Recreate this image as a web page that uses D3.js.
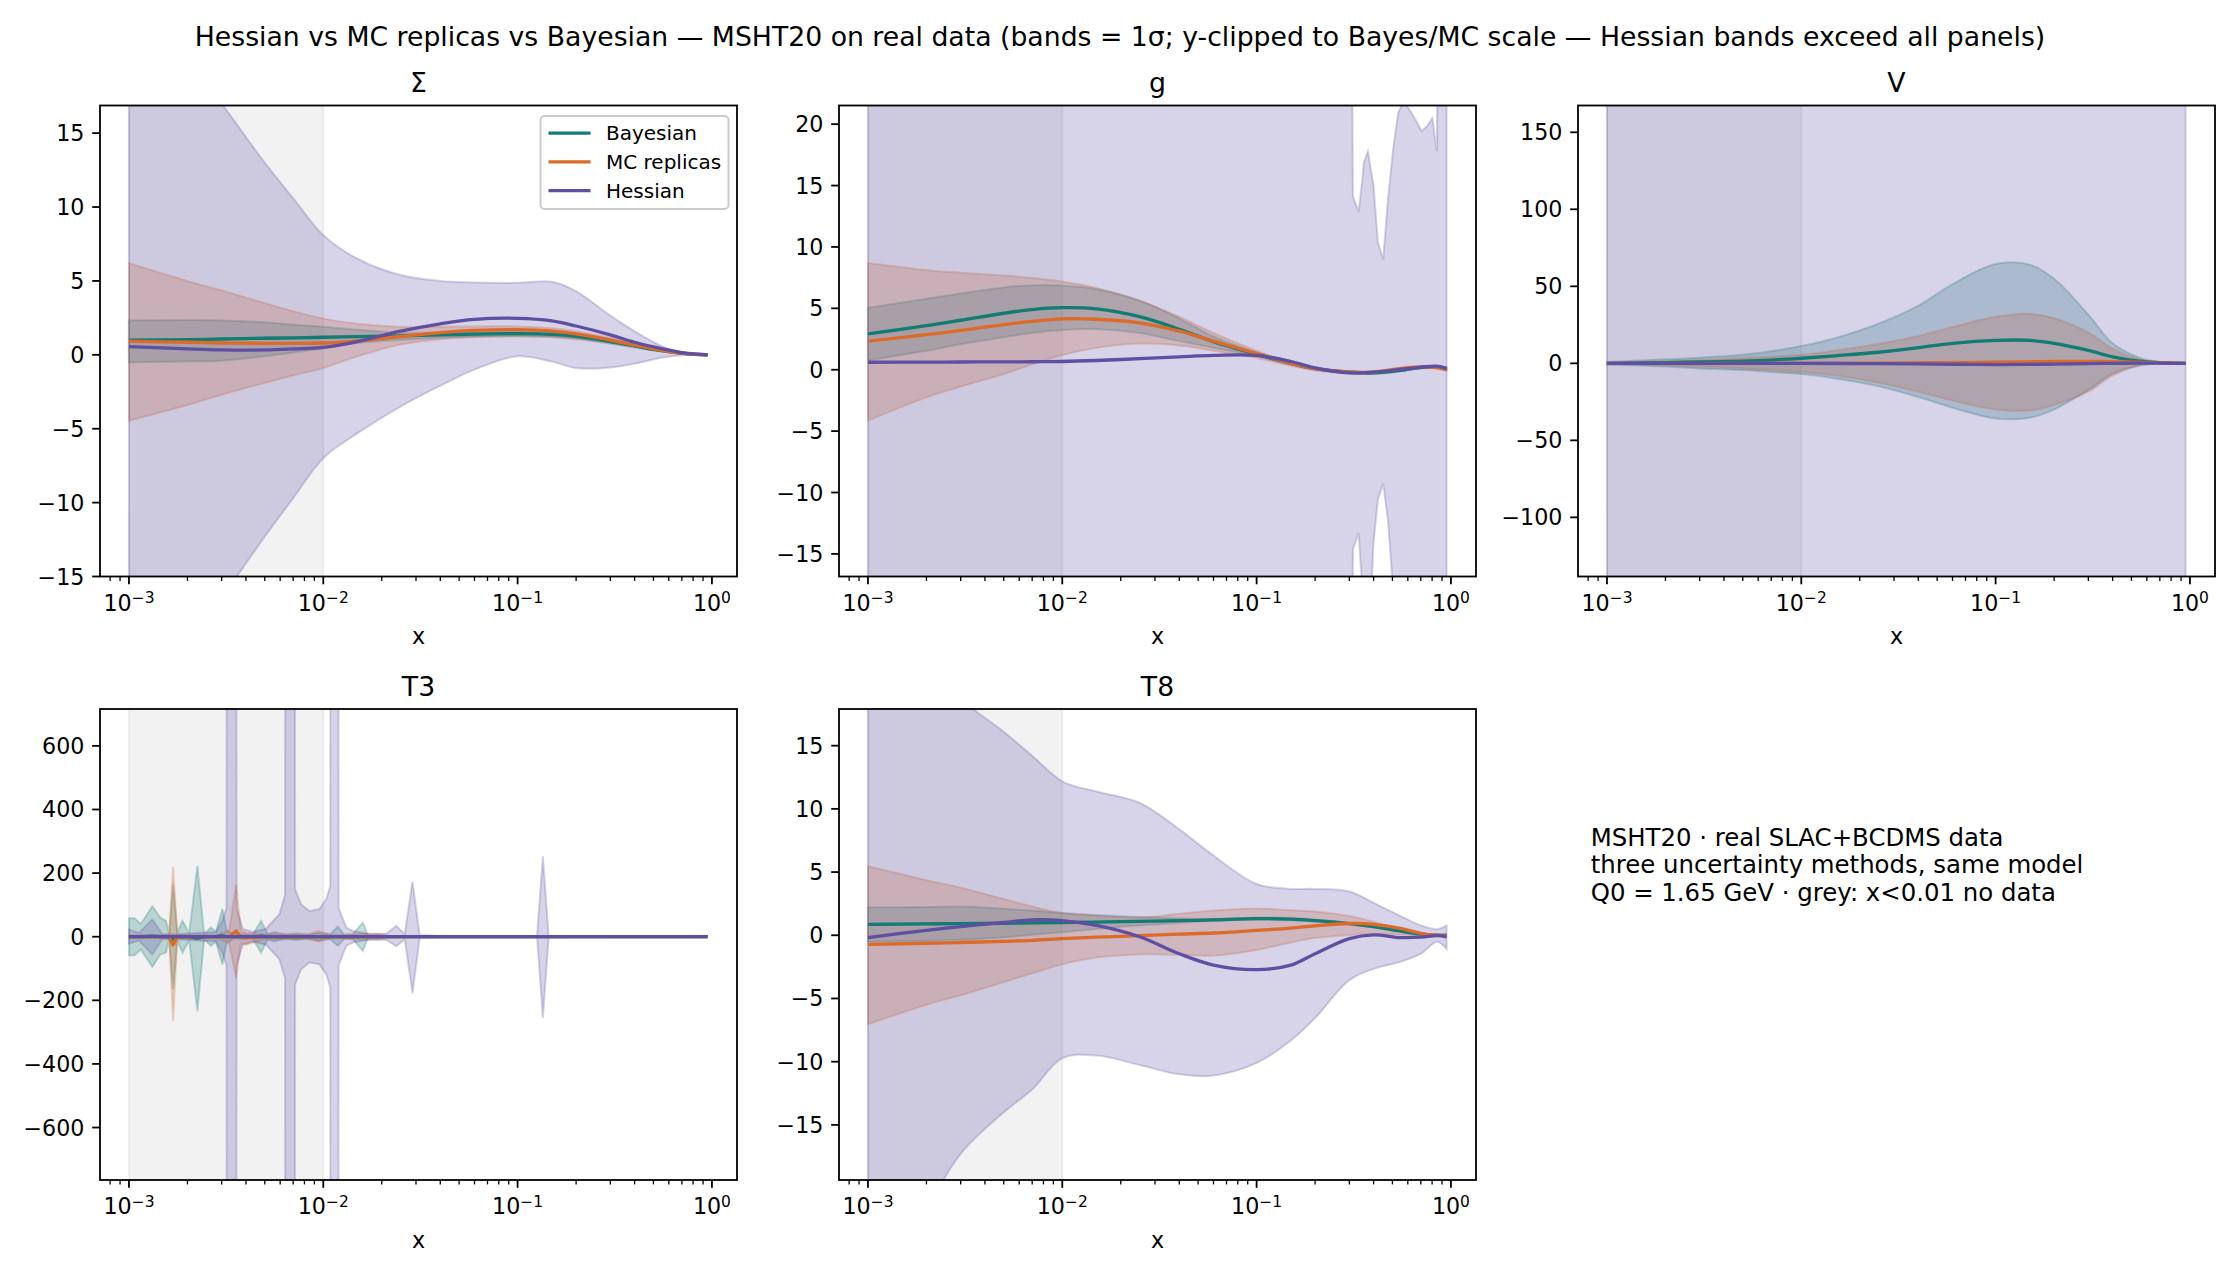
<!DOCTYPE html>
<html>
<head>
<meta charset="utf-8">
<script src="https://cdn.jsdelivr.net/npm/d3@7/dist/d3.min.js"></script>
<style>
  body { margin: 0; background: #fff; }
  text { font-family: "DejaVu Sans", sans-serif; fill: #000; }
</style>
</head>
<body>
<div id="chart"></div>
<script>
// ---- values ----
var xGrid = [0.001, 0.002, 0.003, 0.005, 0.007, 0.01, 0.015, 0.025, 0.04, 0.06, 0.1, 0.15, 0.2, 0.3, 0.4, 0.55, 0.7, 0.85, 0.95];
var noDataSpan = [0.001, 0.01];

// Sigma
var sigmaYlim = [-15, 16.87];
var sigmaTicks = [-15, -10, -5, 0, 5, 10, 15];
var sigmaBayes   = [1.0, 1.03, 1.07, 1.12, 1.15, 1.19, 1.23, 1.28, 1.35, 1.4, 1.43, 1.38, 1.25, 0.9, 0.6, 0.28, 0.1, 0.02, 0];
var sigmaBayesLo = [-0.5, -0.45, -0.4, -0.1, 0.15, 0.45, 0.8, 1.0, 1.15, 1.22, 1.25, 1.2, 1.1, 0.75, 0.5, 0.23, 0.08, 0.01, 0];
var sigmaBayesHi = [2.33, 2.35, 2.33, 2.2, 2.05, 1.9, 1.7, 1.5, 1.5, 1.55, 1.6, 1.55, 1.4, 1.05, 0.7, 0.33, 0.12, 0.03, 0];
var sigmaMc      = [0.92, 0.85, 0.8, 0.78, 0.78, 0.8, 0.95, 1.24, 1.5, 1.65, 1.7, 1.6, 1.42, 1.0, 0.65, 0.3, 0.11, 0.03, 0];
var sigmaMcLo    = [-4.46, -3.4, -2.7, -1.9, -1.4, -0.9, -0.1, 0.7, 1.05, 1.2, 1.25, 1.2, 1.05, 0.8, 0.55, 0.25, 0.09, 0.02, 0];
var sigmaMcHi    = [6.2, 5.0, 4.35, 3.5, 2.95, 2.45, 2.1, 1.9, 1.9, 1.92, 1.92, 1.8, 1.6, 1.15, 0.75, 0.35, 0.12, 0.03, 0];
var sigmaHess    = [0.56, 0.4, 0.33, 0.33, 0.4, 0.5, 0.9, 1.6, 2.1, 2.4, 2.47, 2.3, 1.95, 1.35, 0.85, 0.42, 0.15, 0.04, 0];
var sigmaHessLo  = [-28, -20, -16.5, -12.3, -9.7, -7.0, -5.3, -3.5, -2.1, -1.0, -0.1, -0.46, -0.9, -0.85, -0.6, -0.2, -0.03, 0, 0];
var sigmaHessHi  = [28, 20, 17, 13, 10.6, 8.1, 6.5, 5.4, 5.0, 4.9, 4.87, 4.94, 4.3, 2.65, 1.6, 0.6, 0.12, 0.03, 0];

// g
var gYlim = [-16.84, 21.52];
var gTicks = [-15, -10, -5, 0, 5, 10, 15, 20];
var gBayes   = [2.92, 3.59, 4.03, 4.6, 4.9, 5.05, 4.96, 4.32, 3.3, 2.28, 1.25, 0.52, 0.09, -0.2, -0.26, -0.06, 0.2, 0.23, 0.09];
var gBayesLo = [0.76, 1.55, 2.07, 2.65, 3.0, 3.24, 3.3, 3.0, 2.33, 1.78, 1.11, 0.44, 0.01, -0.28, -0.34, -0.14, 0.12, 0.15, 0.01];
var gBayesHi = [5.05, 5.78, 6.21, 6.7, 6.88, 6.86, 6.56, 5.63, 4.17, 2.71, 1.4, 0.61, 0.17, -0.12, -0.18, 0.02, 0.28, 0.31, 0.17];
var gMc      = [2.33, 2.86, 3.2, 3.68, 3.94, 4.14, 4.11, 3.82, 3.15, 2.33, 1.31, 0.52, 0.09, -0.2, -0.2, 0.09, 0.23, 0.17, 0];
var gMcLo    = [-4.14, -2.25, -1.37, -0.35, 0.44, 1.2, 1.78, 2.13, 1.98, 1.55, 0.96, 0.32, -0.06, -0.3, -0.3, -0.01, 0.13, 0.07, -0.1];
var gMcHi    = [8.69, 8.11, 7.9, 7.67, 7.47, 7.18, 6.65, 5.63, 4.32, 3.0, 1.55, 0.61, 0.19, -0.1, -0.1, 0.19, 0.33, 0.27, 0.1];
var gHess    = [0.61, 0.62, 0.63, 0.64, 0.65, 0.67, 0.75, 0.9, 1.05, 1.17, 1.17, 0.67, 0.15, -0.26, -0.2, 0.03, 0.2, 0.29, 0.09];
var gHessBandX = [0.001, 0.01, 0.1, 0.2, 0.28, 0.307, 0.313, 0.335, 0.35, 0.356, 0.374, 0.39, 0.4, 0.421, 0.448, 0.474, 0.504, 0.535, 0.561, 0.594, 0.656, 0.706, 0.755, 0.802, 0.847, 0.857, 0.9, 0.95];
var gHessHi  = [45, 45, 45, 45, 45, 40, 14.15, 12.85, 15.5, 16.87, 17.8, 16, 14.96, 10.35, 8.99, 13.88, 17.95, 20.94, 21.6, 21.5, 20.4, 19.45, 19.85, 20.5, 17.8, 40, 45, 45];
var gHessLo  = [-45, -45, -45, -45, -45, -40, -14.65, -13.3, -18, -19, -19, -18, -14, -10.57, -9.27, -12.2, -18, -30, -40, -45, -45, -45, -45, -45, -45, -45, -45, -45];

// V
var vYlim = [-138.4, 167.4];
var vTicks = [-100, -50, 0, 50, 100, 150];
var vBayes   = [0, 0.5, 0.9, 1.4, 2.1, 3.3, 4.9, 7.2, 10.2, 13.0, 14.9, 14.9, 13.0, 8.4, 4.2, 1.4, 0.5, 0.1, 0];
var vBayesLo = [-0.9, -2.1, -3.3, -4.4, -5.6, -7.0, -9.8, -14.9, -21.9, -28.8, -35.8, -35.3, -30, -17.2, -6.7, -1.4, -0.2, 0, 0];
var vBayesHi = [0.9, 2.6, 3.7, 5.6, 7.9, 11.2, 16.5, 25.8, 37.4, 51.4, 64.5, 64.0, 54.9, 31.6, 13, 3.7, 0.9, 0.2, 0];
var vMc      = [0, 0, 0, 0, 0, 0, 0, 0.1, 0.3, 0.5, 0.8, 1.0, 1.2, 1.3, 1.1, 0.6, 0.3, 0.1, 0];
var vMcLo    = [-0.5, -1.4, -2.1, -3.3, -4.4, -5.6, -7.9, -12.6, -18.4, -24.2, -30, -30.7, -27, -18.4, -7.9, -1.4, -0.2, 0, 0];
var vMcHi    = [0.5, 1.4, 2.1, 3.3, 4.2, 5.6, 8.4, 12.6, 17.7, 23.5, 30.2, 32.1, 29.3, 20, 9.5, 2.6, 0.5, 0.1, 0];
var vHess    = [0, 0, 0, 0, 0, 0, -0.1, -0.2, -0.4, -0.6, -0.8, -0.7, -0.5, -0.2, 0, 0.1, 0.1, 0, 0];
var vHessBandX = [0.001, 0.95];
var vHessLo  = [-420, -420];
var vHessHi  = [420, 420];

// T3 (jagged, drawn point to point)
var t3Ylim = [-765, 716];
var t3Ticks = [-600, -400, -200, 0, 200, 400, 600];
var t3BayesX  = [0.001, 0.00107, 0.00115, 0.00132, 0.00145, 0.00155, 0.00161, 0.001687, 0.001774, 0.001884, 0.002042, 0.002249, 0.002438, 0.002642, 0.002799, 0.003027, 0.003177, 0.003483, 0.003846, 0.004325, 0.004786, 0.005176, 0.005598, 0.006442, 0.007244, 0.008166, 0.00955, 0.010765, 0.011885, 0.012853, 0.014191, 0.015996, 0.016982, 0.02, 0.05, 0.95];
var t3BayesHi = [58, 58, 40, 96, 60, 50, 7, 165, 12, 50, 12, 223, 8, 29, 15, 87, 20, 5, 8, 5, 50, 8, 15, 6, 10, 6, 12, 6, 32, 6, 8, 45, 3, 1, 0, 0];
var t3BayesLo = [-59, -58, -40, -95, -56, -50, -7, -166, -12, -50, -12, -235, -8, -29, -15, -87, -20, -5, -8, -5, -50, -8, -15, -6, -10, -6, -12, -6, -29, -6, -8, -45, -3, -1, 0, 0];
var t3Bayes   = [0, 0, 0, 2, 0, 0, 0, -8, 0, 0, 0, -5, 0, 0, 0, 3, 0, 0, 0, 0, 2, 0, 0, 0, 0, 0, 0, 0, 0, 0, 0, 0, 0, 0, 0, 0];
var t3McX  = [0.001, 0.00155, 0.00161, 0.001687, 0.001774, 0.0022, 0.0028, 0.00328, 0.003556, 0.003767, 0.004, 0.005, 0.0085, 0.00937, 0.0112, 0.0145, 0.01875, 0.0224, 0.03, 0.95];
var t3McHi = [5, 5, 8, 220, 8, 6, 5, 20, 165, 20, 12, 8, 8, 18, 6, 8, 10, 2, 0, 0];
var t3McLo = [-5, -5, -8, -266, -8, -6, -5, -20, -130, -20, -25, -8, -8, -15, -6, -8, -10, -2, 0, 0];
var t3Mc   = [0, 0, 0, -26, 0, 0, 0, 0, 18, 0, -3, 0, 0, 0, 0, 0, 0, 0, 0, 0];
var t3HessX  = [0.001, 0.001127, 0.001318, 0.001486, 0.001778, 0.002239, 0.002799, 0.003027, 0.003177, 0.003373, 0.003581, 0.003846, 0.004325, 0.00507, 0.005943, 0.006353, 0.006745, 0.007161, 0.007691, 0.008492, 0.00955, 0.010351, 0.010864, 0.011429, 0.011995, 0.013122, 0.014191, 0.017783, 0.021135, 0.023768, 0.026242, 0.028774, 0.031333, 0.039811, 0.125893, 0.134896, 0.144544, 0.316228, 0.95];
var t3HessHi = [23, 12, 55, 8, 8, 12, 15, 50, 90, 30000, 90, 25, 15, 25, 71, 130, 30000, 150, 102, 81, 87, 118, 160, 30000, 90, 29, 18, 8, 10, 34, 8, 173, 5, 2, 2, 253, 2, 1, 0];
var t3HessLo = [-22, -12, -56, -8, -8, -12, -15, -50, -90, -30000, -90, -25, -15, -25, -71, -130, -30000, -150, -102, -81, -87, -118, -160, -30000, -90, -29, -18, -8, -10, -30, -8, -177, -5, -2, -2, -255, -2, -1, 0];
var t3HessLineX = [0.001, 0.95];
var t3Hess = [0, 0];

// T8
var t8Ylim = [-19.36, 17.9];
var t8Ticks = [-15, -10, -5, 0, 5, 10, 15];
var t8Bayes   = [0.87, 0.9, 0.92, 0.95, 0.98, 1.01, 1.04, 1.1, 1.16, 1.22, 1.31, 1.28, 1.16, 0.93, 0.69, 0.33, 0.09, 0, 0];
var t8BayesLo = [-0.51, -0.43, -0.36, -0.15, 0.05, 0.24, 0.5, 0.78, 0.98, 1.13, 1.22, 1.18, 1.08, 0.87, 0.62, 0.27, 0.07, -0.01, 0];
var t8BayesHi = [2.21, 2.24, 2.27, 2.1, 1.95, 1.76, 1.6, 1.45, 1.35, 1.3, 1.4, 1.38, 1.25, 1.0, 0.78, 0.4, 0.12, 0.02, 0];
var t8Mc      = [-0.72, -0.63, -0.57, -0.48, -0.4, -0.27, -0.15, -0.03, 0.09, 0.18, 0.39, 0.57, 0.75, 0.93, 0.87, 0.54, 0.15, 0, 0];
var t8McLo    = [-7.04, -5.49, -4.75, -3.7, -3.01, -2.3, -1.76, -1.52, -1.55, -1.61, -1.16, -0.57, -0.21, 0.03, 0.1, 0.05, 0.02, 0, 0];
var t8McHi    = [5.46, 4.36, 3.76, 2.87, 2.27, 1.76, 1.55, 1.4, 1.7, 1.95, 2.12, 1.97, 1.88, 1.52, 1.07, 0.48, 0.09, 0, 0];
var t8Hess    = [-0.18, 0.39, 0.69, 1.01, 1.22, 1.16, 0.78, -0.12, -1.46, -2.36, -2.72, -2.36, -1.46, -0.27, 0.03, -0.18, -0.15, -0.03, -0.12];
var t8HessLo  = [-35, -22, -17.3, -14.0, -12.2, -9.73, -9.52, -10.27, -11.0, -11.1, -10.1, -8.33, -6.54, -3.55, -2.66, -2.1, -1.46, -0.51, -1.1];
var t8HessHi  = [32, 23, 18.8, 16.1, 14.2, 12.18, 11.37, 10.48, 8.39, 6.3, 4.06, 3.67, 3.67, 3.46, 2.57, 1.52, 0.78, 0.48, 0.78];

var methods = ["Bayesian", "MC replicas", "Hessian"];
var title = "Hessian vs MC replicas vs Bayesian \u2014 MSHT20 on real data (bands = 1\u03c3; y-clipped to Bayes/MC scale \u2014 Hessian bands exceed all panels)";
var noteLines = ["MSHT20 \u00b7 real SLAC+BCDMS data", "three uncertainty methods, same model", "Q0 = 1.65 GeV \u00b7 grey: x<0.01 no data"];

// ---- layout ----
var colBayes = "#127b74", colMc = "#dc6a28", colHess = "#5e4fa2";
var W = 637, H = 471;
var colX = [100, 839, 1578], rowY = [105.5, 709];
var xDomain = [Math.pow(10, -3.149), Math.pow(10, 0.129)];
var smooth = d3.curveCatmullRom.alpha(0.5), jag = d3.curveLinear;

function trio(bx, b, bl, bh, mx, m, ml, mh, hx, h, hbx, hl, hh) {
    return [
        {color: colBayes, x: bx, mid: b, bx: bx, lo: bl, hi: bh},
        {color: colMc, x: mx, mid: m, bx: mx, lo: ml, hi: mh},
        {color: colHess, x: hx, mid: h, bx: hbx, lo: hl, hi: hh}
    ];
}

var panels = [
    {title: "\u03a3", col: 0, row: 0, ylim: sigmaYlim, ticks: sigmaTicks, curve: smooth, legend: true,
     series: trio(xGrid, sigmaBayes, sigmaBayesLo, sigmaBayesHi, xGrid, sigmaMc, sigmaMcLo, sigmaMcHi, xGrid, sigmaHess, xGrid, sigmaHessLo, sigmaHessHi)},
    {title: "g", col: 1, row: 0, ylim: gYlim, ticks: gTicks, curve: smooth, hessBandCurve: jag,
     series: trio(xGrid, gBayes, gBayesLo, gBayesHi, xGrid, gMc, gMcLo, gMcHi, xGrid, gHess, gHessBandX, gHessLo, gHessHi)},
    {title: "V", col: 2, row: 0, ylim: vYlim, ticks: vTicks, curve: smooth, hessBandCurve: jag,
     series: trio(xGrid, vBayes, vBayesLo, vBayesHi, xGrid, vMc, vMcLo, vMcHi, xGrid, vHess, vHessBandX, vHessLo, vHessHi)},
    {title: "T3", col: 0, row: 1, ylim: t3Ylim, ticks: t3Ticks, curve: jag,
     series: trio(t3BayesX, t3Bayes, t3BayesLo, t3BayesHi, t3McX, t3Mc, t3McLo, t3McHi, t3HessLineX, t3Hess, t3HessX, t3HessLo, t3HessHi)},
    {title: "T8", col: 1, row: 1, ylim: t8Ylim, ticks: t8Ticks, curve: smooth,
     series: trio(xGrid, t8Bayes, t8BayesLo, t8BayesHi, xGrid, t8Mc, t8McLo, t8McHi, xGrid, t8Hess, xGrid, t8HessLo, t8HessHi)}
];

var svg = d3.select("#chart").append("svg")
    .attr("width", 2240)
    .attr("height", 1280)
    .style("background", "#fff");
var defs = svg.append("defs");

svg.append("text")
    .attr("x", 1120)
    .attr("y", 45.5)
    .attr("text-anchor", "middle")
    .style("font-size", "26.7px")
    .text(title);

function fmtNum(v) { return v < 0 ? "\u2212" + Math.abs(v) : "" + v; }

function drawPanel(p, i) {
    var left = colX[p.col], top = rowY[p.row];
    var x = d3.scaleLog().domain(xDomain).range([0, W]);
    var y = d3.scaleLinear().domain(p.ylim).range([H, 0]);
    var g = svg.append("g").attr("transform", "translate(" + left + "," + top + ")");

    defs.append("clipPath").attr("id", "clip" + i)
        .append("rect").attr("width", W).attr("height", H);
    var plot = g.append("g").attr("clip-path", "url(#clip" + i + ")");

    // grey span: no data below x = 0.01
    plot.append("rect")
        .attr("x", x(noDataSpan[0]))
        .attr("width", x(noDataSpan[1]) - x(noDataSpan[0]))
        .attr("y", -2).attr("height", H + 4)
        .attr("fill", "grey").attr("fill-opacity", 0.1)
        .attr("stroke", "grey").attr("stroke-opacity", 0.1).attr("stroke-width", 2);

    // bands first, lines after (matplotlib zorder)
    p.series.forEach(function(s, k) {
        var c = (k == 2 && p.hessBandCurve) ? p.hessBandCurve : p.curve;
        plot.append("path")
            .datum(d3.zip(s.bx, s.lo, s.hi))
            .attr("fill", s.color).attr("fill-opacity", 0.25)
            .attr("stroke", s.color).attr("stroke-opacity", 0.25).attr("stroke-width", 2)
            .attr("d", d3.area().curve(c)
                .x(function(d) { return x(d[0]); })
                .y0(function(d) { return y(d[1]); })
                .y1(function(d) { return y(d[2]); }));
    });
    p.series.forEach(function(s) {
        plot.append("path")
            .datum(d3.zip(s.x, s.mid))
            .attr("fill", "none")
            .attr("stroke", s.color)
            .attr("stroke-width", 3.3)
            .attr("stroke-linejoin", "round")
            .attr("d", d3.line().curve(p.curve)
                .x(function(d) { return x(d[0]); })
                .y(function(d) { return y(d[1]); }));
    });

    // frame
    g.append("rect")
        .attr("width", W).attr("height", H)
        .attr("fill", "none").attr("stroke", "#000").attr("stroke-width", 1.8);

    // x ticks (log, with minor ticks)
    x.ticks().forEach(function(t) {
        var lg = Math.log10(t);
        var major = Math.abs(lg - Math.round(lg)) < 1e-6;
        g.append("line")
            .attr("x1", x(t)).attr("x2", x(t))
            .attr("y1", H).attr("y2", H + (major ? 7.8 : 4.4))
            .attr("stroke", "#000").attr("stroke-width", major ? 1.8 : 1.3);
        if (major) {
            var e = Math.round(lg);
            var lab = g.append("text")
                .attr("x", x(t)).attr("y", H + 34)
                .attr("text-anchor", "middle")
                .style("font-size", "22.2px")
                .text("10");
            lab.append("tspan")
                .attr("dy", "-7.5")
                .style("font-size", "15.5px")
                .text(fmtNum(e));
        }
    });
    g.append("text")
        .attr("x", W / 2).attr("y", H + 67.5)
        .attr("text-anchor", "middle")
        .style("font-size", "22.2px")
        .text("x");

    // y ticks
    p.ticks.forEach(function(t) {
        g.append("line")
            .attr("x1", -7.8).attr("x2", 0)
            .attr("y1", y(t)).attr("y2", y(t))
            .attr("stroke", "#000").attr("stroke-width", 1.8);
        g.append("text")
            .attr("x", -15.6).attr("y", y(t) + 8)
            .attr("text-anchor", "end")
            .style("font-size", "22.2px")
            .text(fmtNum(t));
    });

    g.append("text")
        .attr("x", W / 2).attr("y", -13.3)
        .attr("text-anchor", "middle")
        .style("font-size", "26.7px")
        .text(p.title);

    if (p.legend) {
        var lg = g.append("g").attr("transform", "translate(" + (W - 196.5) + ",10.5)");
        lg.append("rect")
            .attr("width", 188).attr("height", 93).attr("rx", 4)
            .attr("fill", "#fff").attr("fill-opacity", 0.8)
            .attr("stroke", "#cccccc").attr("stroke-width", 2);
        p.series.forEach(function(s, k) {
            var yy = 17.2 + k * 28.7;
            lg.append("line")
                .attr("x1", 8).attr("x2", 50)
                .attr("y1", yy).attr("y2", yy)
                .attr("stroke", s.color).attr("stroke-width", 3.3);
            lg.append("text")
                .attr("x", 65.5).attr("y", yy + 7)
                .style("font-size", "20px")
                .text(methods[k]);
        });
    }
}

panels.forEach(drawPanel);

// note in the empty sixth slot
noteLines.forEach(function(t, i) {
    svg.append("text")
        .attr("x", 1590.7)
        .attr("y", 845.7 + i * 27.5)
        .style("font-size", "24.4px")
        .text(t);
});
</script>
</body>
</html>
